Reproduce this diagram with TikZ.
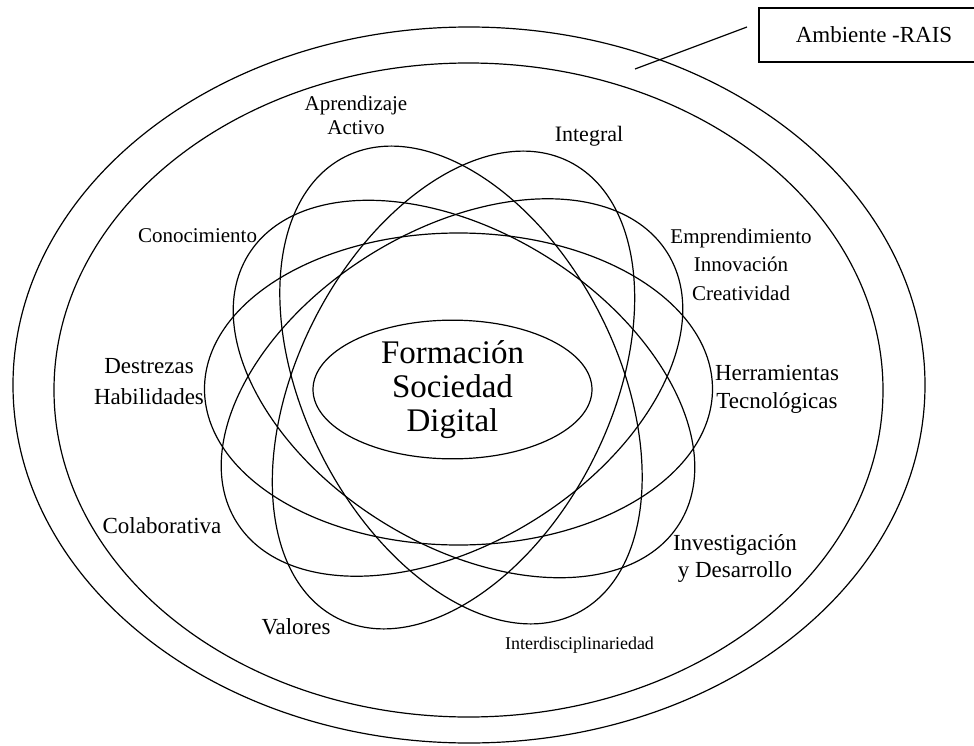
\documentclass[tikz,border=0pt]{standalone}
\usepackage{fontspec}
\setmainfont{Liberation Serif}
\usepackage{tikz}
\usetikzlibrary{shapes.geometric}

\begin{document}
\begin{tikzpicture}[x=1pt,y=1pt,line width=1.2pt,
		lbl/.style={align=center,font=\fontsize{23}{28}\selectfont},
		orb/.style={draw,line width=1.2pt}]
			\useasboundingbox (-458,-356) rectangle (516,389);
			
			% ambiente
			\draw[orb] (11,4) ellipse [x radius=456pt, y radius=358pt];
			\draw[orb] (10.5,-1) ellipse [x radius=414.5pt, y radius=327pt];
			
			% orbitas
			\draw[orb] (0.5,0) ellipse [x radius=254pt, y radius=156pt];
			\draw[orb,rotate around={-32:(6,0)}] (6,0) ellipse [x radius=254pt, y radius=156pt];
			\draw[orb,rotate around={32:(-6,1.5)}] (-6,1.5) ellipse [x radius=254pt, y radius=156pt];
			\draw[orb,rotate around={-63:(3,4)}] (3,4) ellipse [x radius=256pt, y radius=156pt];
			\draw[orb,rotate around={63:(-4.5,-1)}] (-4.5,-1) ellipse [x radius=256pt, y radius=156pt];
			
			\node[draw,ellipse,minimum width=279pt,minimum height=135pt,inner sep=0pt,
				font=\fontsize{33}{34}\selectfont,align=center] (core)at(-5.5,-0.5) {Formación\\Sociedad\\Digital};
			
			\node[lbl,font=\fontsize{21}{24}\selectfont] (apr)at(-102,273.5) {Aprendizaje\\Activo};
			\node[lbl,font=\fontsize{22}{28}\selectfont] (int)at(131,253) {Integral};
			\node[lbl,font=\fontsize{21}{28}\selectfont] (con)at(-260.5,153) {Conocimiento};
			\node[lbl,font=\fontsize{21}{28.5}\selectfont] (emp)at(283,124.5) {Emprendimiento\\Innovación\\Creatividad};
			\node[lbl,font=\fontsize{23}{31}\selectfont] (des)at(-309,7.5) {Destrezas\\Habilidades};
			\node[lbl] (her)at(319,0) {Herramientas\\Tecnológicas};
			\node[lbl] (col)at(-296,-137) {Colaborativa};
			\node[lbl,font=\fontsize{23}{27}\selectfont] (inv)at(277,-169.5) {Investigación\\y Desarrollo};
			\node[lbl] (val)at(-162,-238) {Valores};
			\node[lbl,font=\fontsize{18}{20}\selectfont] (inter)at(121.5,-256) {Interdisciplinariedad};
			
			\node[draw,line width=1.2pt,minimum width=230pt,minimum height=54pt,
				font=\fontsize{23}{24}\selectfont] (rais)at(416,354) {Ambiente -RAIS};
			\coordinate (lead) at (289,362);
			\coordinate (tip) at (177,320);
			\draw[line width=1.2pt] (lead) -- (tip);
		\end{tikzpicture}
\end{document}
